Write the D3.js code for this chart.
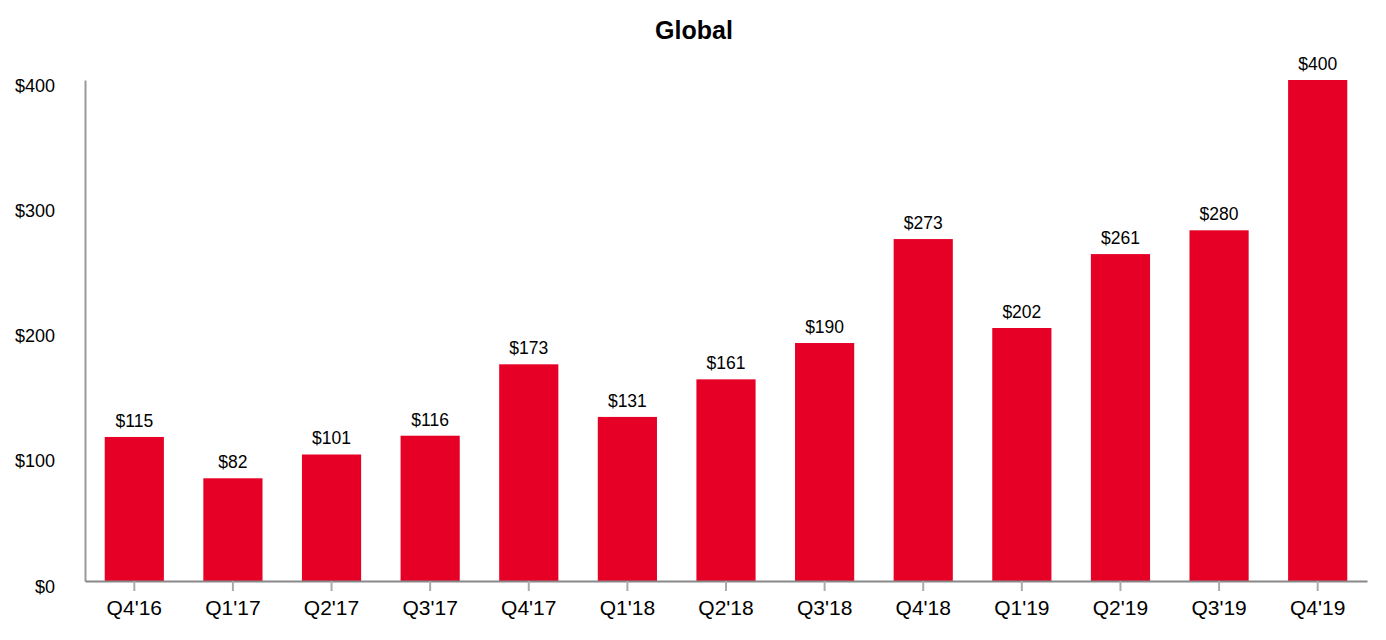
<!DOCTYPE html>
<html>
<head>
<meta charset="utf-8">
<script src="https://cdn.jsdelivr.net/npm/d3@7"></script>
<style>
  html, body { margin: 0; padding: 0; background: #fff; }
  text { font-family: "Liberation Sans", Arial, sans-serif; }
</style>
</head>
<body>
<svg id="chart" width="1386" height="640"></svg>
<script>
const categories = ["Q4'16","Q1'17","Q2'17","Q3'17","Q4'17","Q1'18","Q2'18","Q3'18","Q4'18","Q1'19","Q2'19","Q3'19","Q4'19"];
const values = [115, 82, 101, 116, 173, 131, 161, 190, 273, 202, 261, 280, 400];
const yTicks = [0, 100, 200, 300, 400];
const title = "Global";

const svg = d3.select("#chart");
const plotLeft = 85, plotRight = 1367, plotTop = 80, plotBottom = 581;

const x = d3.scaleBand().domain(categories).range([plotLeft, plotRight]).paddingInner(0.4).paddingOuter(0.2);
const y = d3.scaleLinear().domain([0, 400]).range([plotBottom, plotTop]);

svg.append("text").attr("x", 694).attr("y", 39).attr("text-anchor", "middle")
  .attr("font-size", 25).attr("font-weight", "bold").attr("fill", "#000").text(title);

svg.selectAll("rect.bar").data(values).join("rect").attr("class", "bar")
  .attr("x", (d, i) => x(categories[i]))
  .attr("width", x.bandwidth())
  .attr("y", d => y(d))
  .attr("height", d => plotBottom - y(d))
  .attr("fill", "#e60026");

svg.selectAll("text.lbl").data(values).join("text").attr("class", "lbl")
  .attr("x", (d, i) => x(categories[i]) + x.bandwidth() / 2)
  .attr("y", d => y(d) - 10)
  .attr("text-anchor", "middle").attr("font-size", 17.5).attr("fill", "#000")
  .text(d => "$" + d);

// Y axis
const yAxis = d3.axisLeft(y).tickValues(yTicks).tickSize(0).tickPadding(30).tickFormat(d => "$" + d);
const gy = svg.append("g").attr("transform", `translate(${plotLeft},0)`).call(yAxis);
gy.select(".domain").attr("stroke", "#999").attr("stroke-width", 2);
gy.selectAll(".tick text").attr("font-size", 18).attr("fill", "#000").attr("dy", "0.62em")
  .attr("font-family", "Liberation Sans, Arial, sans-serif");

// X axis
const xAxis = d3.axisBottom(x).tickSize(10).tickSizeOuter(0).tickPadding(9);
const gx = svg.append("g").attr("transform", `translate(0,${plotBottom})`).call(xAxis);
gx.select(".domain").attr("stroke", "#888").attr("stroke-width", 2);
gx.selectAll(".tick line").attr("stroke", "#aaa").attr("stroke-width", 2);
gx.selectAll(".tick text").attr("font-size", 21).attr("fill", "#000")
  .attr("font-family", "Liberation Sans, Arial, sans-serif");
</script>
</body>
</html>
